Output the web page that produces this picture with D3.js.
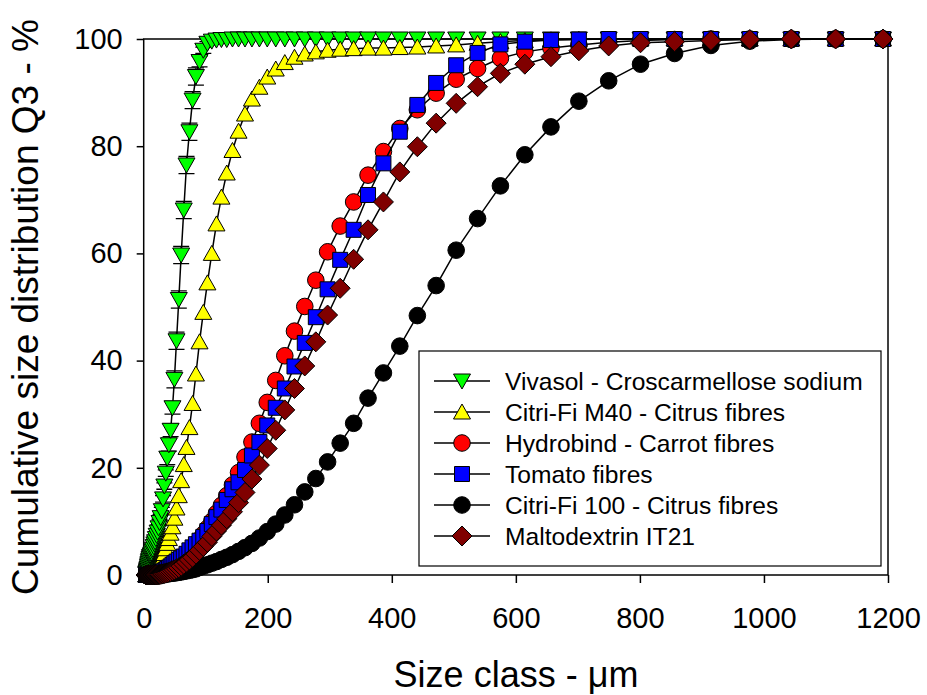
<!DOCTYPE html>
<html>
<head>
<meta charset="utf-8">
<script src="https://cdn.jsdelivr.net/npm/d3@7"></script>
<style>
    body { margin: 0; background: #ffffff; }
    text { font-family: Arial, "Liberation Sans", sans-serif; fill: #000000; }
</style>
</head>
<body>
<div id="canvas"></div>
<script>
"use strict"

/* size classes (um) */
let sizeClass = [4.0, 4.3, 4.6, 4.9, 5.2, 5.6, 5.9, 6.3, 6.8, 7.2,
    7.7, 8.3, 8.8, 9.4, 10.1, 10.8, 11.5, 12.3, 13.2, 14.1,
    15.0, 16.1, 17.2, 18.3, 19.6, 20.9, 22.4, 23.9, 25.5, 27.3,
    29.2, 31.2, 33.3, 35.6, 38.0, 40.6, 43.4, 46.4, 49.5, 52.9,
    56.6, 60.4, 64.6, 69.0, 73.7, 78.8, 84.2, 90.0, 96.1, 102.7,
    109.8, 117.3, 125.3, 133.9, 143.1, 152.9, 163.3, 174.5, 186.5, 199.2,
    212.9, 227.5, 243.1, 259.7, 277.5, 296.5, 316.8, 338.5, 361.7, 386.5,
    412.9, 441.2, 471.5, 503.8, 538.3, 575.1, 614.5, 656.6, 701.6, 749.7,
    801.0, 855.9, 914.5, 977.2, 1044.1, 1115.6, 1192.0];

/* cumulative Q3 (%) for every series */
let vivasol = [0.2, 0.3, 0.4, 0.5, 0.7, 0.9, 1.1, 1.3, 1.6, 1.9,
    2.2, 2.5, 2.8, 3.1, 3.4, 3.5, 3.7, 3.9, 4.1, 4.5,
    4.8, 5.3, 5.8, 6.2, 6.8, 7.4, 8.0, 8.8, 9.8, 10.7,
    12.0, 14.2, 16.6, 19.0, 21.8, 24.3, 27.0, 31.2, 36.5, 43.7,
    51.4, 59.7, 68.1, 76.5, 82.7, 88.6, 93.0, 95.8, 97.9, 99.2,
    99.6, 99.8, 99.9, 99.9, 100, 100, 100, 100, 100, 100,
    100, 100, 100, 100, 100, 100, 100, 100, 100, 100,
    100, 100, 100, 100, 100, 100, 100, 100, 100, 100,
    100, 100, 100, 100, 100, 100, 100];

let vivasolError = [0.3, 0.3, 0.3, 0.3, 0.3, 0.3, 0.3, 0.3, 0.3, 0.3,
    0.3, 0.3, 0.3, 0.3, 0.3, 0.3, 0.3, 0.3, 0.3, 0.3,
    0.3, 0.3, 0.3, 0.3, 0.3, 0.3, 0.6, 0.6, 0.6, 0.6,
    0.6, 0.6, 0.6, 0.6, 1.2, 1.2, 1.2, 1.2, 1.6, 1.6,
    1.6, 1.6, 1.6, 1.6, 1.6, 1.6, 1.6, 1.0, 0.6, 0.3,
    0.3, 0.3, 0.3, 0.3, 0, 0, 0, 0, 0, 0,
    0, 0, 0, 0, 0, 0, 0, 0, 0, 0,
    0, 0, 0, 0, 0, 0, 0, 0, 0, 0,
    0, 0, 0, 0, 0, 0, 0];

let citriM40 = [0, 0, 0, 0, 0, 0.01, 0.01, 0.02, 0.02, 0.03,
    0.04, 0.05, 0.06, 0.08, 0.1, 0.12, 0.15, 0.2, 0.25, 0.3,
    0.35, 0.4, 0.5, 0.6, 0.75, 0.9, 1.1, 1.3, 1.6, 2.0,
    2.5, 3.2, 4.0, 4.9, 5.9, 6.8, 7.8, 9.0, 10.6, 12.5,
    14.8, 17.6, 20.6, 23.8, 27.5, 32.0, 37.5, 43.5, 49.0, 54.5,
    60.0, 65.5, 70.5, 75.0, 79.2, 82.8, 86.0, 88.8, 91.0, 92.9,
    94.4, 95.6, 96.6, 97.2, 97.6, 97.9, 98.1, 98.2, 98.3, 98.3,
    98.4, 98.5, 98.7, 98.9, 99.2, 99.5, 99.7, 99.85, 99.95, 100,
    100, 100, 100, 100, 100, 100, 100];

let hydrobind = [0, 0, 0, 0, 0, 0, 0, 0, 0, 0,
    0, 0, 0, 0, 0, 0, 0, 0, 0.01, 0.02,
    0.03, 0.05, 0.07, 0.09, 0.12, 0.15, 0.2, 0.25, 0.32, 0.4,
    0.5, 0.6, 0.7, 0.85, 1.0, 1.2, 1.4, 1.6, 1.9, 2.2,
    2.5, 2.9, 3.3, 3.8, 4.4, 5.0, 5.8, 6.6, 7.6, 8.7,
    10.0, 11.5, 13.0, 14.8, 16.8, 19.1, 22.0, 24.8, 28.3, 32.2,
    36.3, 40.9, 45.5, 50.1, 55.0, 60.3, 65.1, 69.6, 74.6, 79.0,
    83.3, 86.8, 89.9, 92.5, 94.5, 96.4, 97.6, 98.3, 98.9, 99.4,
    99.7, 99.9, 100, 100, 100, 100, 100];

let tomato = [0, 0, 0, 0, 0, 0, 0, 0, 0, 0,
    0, 0, 0, 0, 0, 0, 0, 0, 0.01, 0.02,
    0.03, 0.05, 0.07, 0.1, 0.13, 0.17, 0.22, 0.28, 0.36, 0.45,
    0.55, 0.65, 0.8, 0.95, 1.15, 1.35, 1.6, 1.9, 2.2, 2.5,
    2.8, 3.1, 3.45, 3.95, 4.6, 5.15, 5.75, 6.4, 7.1, 8.2,
    9.5, 10.8, 12.2, 14.0, 16.0, 17.3, 19.6, 22.3, 24.8, 27.9,
    31.2, 34.8, 38.9, 43.3, 48.1, 53.3, 58.8, 64.4, 70.9, 76.8,
    82.7, 87.7, 91.8, 95.1, 97.4, 99.0, 99.5, 99.8, 99.9, 100,
    100, 100, 100, 100, 100, 100, 100];

let citri100 = [0, 0, 0, 0, 0, 0, 0, 0, 0, 0,
    0, 0, 0, 0, 0, 0, 0, 0, 0.01, 0.01,
    0.02, 0.02, 0.03, 0.03, 0.04, 0.05, 0.06, 0.07, 0.08, 0.1,
    0.12, 0.14, 0.16, 0.19, 0.22, 0.25, 0.29, 0.33, 0.38, 0.44,
    0.5, 0.58, 0.67, 0.77, 0.88, 1.0, 1.15, 1.4, 1.65, 1.9,
    2.2, 2.5, 2.9, 3.3, 3.8, 4.4, 5.1, 5.9, 6.9, 8.1,
    9.5, 11.2, 13.1, 15.5, 18.0, 21.1, 24.6, 28.3, 33.0, 37.7,
    42.7, 48.4, 54.0, 60.6, 66.5, 72.6, 78.4, 83.6, 88.4, 92.2,
    95.3, 97.3, 98.8, 99.6, 99.9, 100, 100];

let maltodextrin = [0, 0, 0, 0, 0, 0, 0, 0, 0, 0,
    0, 0, 0, 0, 0, 0, 0, 0, 0, 0,
    0, 0, 0, 0, 0.01, 0.02, 0.04, 0.06, 0.09, 0.12,
    0.16, 0.21, 0.27, 0.34, 0.42, 0.52, 0.65, 0.8, 0.95, 1.15,
    1.35, 1.65, 2.0, 2.4, 2.8, 3.3, 3.9, 4.6, 5.3, 6.1,
    7.2, 8.2, 9.3, 10.5, 11.8, 13.5, 15.4, 17.9, 20.5, 23.6,
    27.0, 30.8, 34.8, 39.0, 43.5, 48.5, 53.5, 58.9, 64.4, 69.6,
    75.2, 79.9, 84.3, 88.0, 91.1, 93.6, 95.3, 96.7, 97.8, 98.7,
    99.3, 99.5, 99.7, 99.9, 100, 100, 100];

let seriesNames = ["Vivasol - Croscarmellose sodium", "Citri-Fi M40 - Citrus fibres",
    "Hydrobind - Carrot fibres", "Tomato fibres", "Citri-Fi 100 - Citrus fibres",
    "Maltodextrin IT21"];

let xTicks = [0, 200, 400, 600, 800, 1000, 1200];
let yTicks = [0, 20, 40, 60, 80, 100];

/* styles per series, same order as the names */
let series = [
    { name: seriesNames[0], values: vivasol, fill: "#00ff00", shape: "triDown" },
    { name: seriesNames[1], values: citriM40, fill: "#ffff00", shape: "triUp" },
    { name: seriesNames[2], values: hydrobind, fill: "#ff0000", shape: "circle" },
    { name: seriesNames[3], values: tomato, fill: "#0000ff", shape: "square" },
    { name: seriesNames[4], values: citri100, fill: "#000000", shape: "circle" },
    { name: seriesNames[5], values: maltodextrin, fill: "#800000", shape: "diamond" }
];

let drawing = d3.select("#canvas")
    .append("svg")
    .attr("width", 927)
    .attr("height", 695);

let xScale = d3.scaleLinear().domain([0, 1200]).range([143.7, 888]);
let yScale = d3.scaleLinear().domain([0, 100]).range([575, 39]);

/* marker shapes centred on 0,0 */
function markerPath(shape) {
    if (shape === "triUp") return "M0,-8L8.5,7L-8.5,7Z";
    if (shape === "triDown") return "M0,8L8.5,-7L-8.5,-7Z";
    if (shape === "square") return "M-7.5,-7.5L7.5,-7.5L7.5,7.5L-7.5,7.5Z";
    if (shape === "diamond") return "M0,-10L10,0L0,10L-10,0Z";
    return d3.symbol().type(d3.symbolCircle).size(Math.PI * 8.3 * 8.3)();
}

/* axes */
let xAxis = drawing.append("g")
    .attr("transform", "translate(0,575)")
    .call(d3.axisBottom(xScale).tickValues(xTicks).tickSize(8).tickPadding(24).tickFormat(d3.format("d")));

let yAxis = drawing.append("g")
    .attr("transform", "translate(143.7,0)")
    .call(d3.axisLeft(yScale).tickValues(yTicks).tickSize(7).tickPadding(14).tickFormat(d3.format("d")));

drawing.selectAll(".domain").remove();
drawing.selectAll(".tick line").attr("stroke", "#000").attr("stroke-width", 1.5);
drawing.selectAll(".tick text")
    .attr("font-size", 29)
    .attr("font-family", "Arial, 'Liberation Sans', sans-serif");

/* frame round the plot */
let frame = drawing.append("rect")
    .attr("x", xScale(0))
    .attr("y", yScale(100))
    .attr("width", xScale(1200) - xScale(0))
    .attr("height", yScale(0) - yScale(100))
    .attr("fill", "none")
    .attr("stroke", "#000")
    .attr("stroke-width", 1.5);

/* curves */
let lineMaker = d3.line()
    .x(d => xScale(d[0]))
    .y(d => yScale(d[1]));

series.forEach(function (s, k) {
    let pts = sizeClass.map((c, i) => [c, s.values[i]]);
    let g = drawing.append("g");

    g.append("path")
        .attr("d", lineMaker(pts))
        .attr("fill", "none")
        .attr("stroke", "#000")
        .attr("stroke-width", 1.5);

    /* error bars only show on the Vivasol curve */
    if (k === 0) {
        let bars = pts.map((p, i) => [p[0], p[1], vivasolError[i]]).filter(p => p[2] > 0);
        g.selectAll(".err")
            .data(bars)
            .enter().append("path")
            .attr("d", function (p) {
                let x = xScale(p[0]);
                let y1 = yScale(p[1] + p[2]);
                let y2 = yScale(p[1] - p[2]);
                return "M" + x + "," + y1 + "V" + y2 +
                    "M" + (x - 8) + "," + y1 + "H" + (x + 8) +
                    "M" + (x - 8) + "," + y2 + "H" + (x + 8);
            })
            .attr("fill", "none")
            .attr("stroke", "#000")
            .attr("stroke-width", 1.3);
    }

    g.selectAll(".mark")
        .data(pts)
        .enter().append("path")
        .attr("d", markerPath(s.shape))
        .attr("transform", p => "translate(" + xScale(p[0]) + "," + yScale(p[1]) + ")")
        .attr("fill", s.fill)
        .attr("stroke", "#000")
        .attr("stroke-width", 1);
});

/* legend */
let legendBox = drawing.append("rect")
    .attr("x", 419)
    .attr("y", 351)
    .attr("width", 462)
    .attr("height", 215)
    .attr("fill", "#fff")
    .attr("stroke", "#000")
    .attr("stroke-width", 1.2);

series.forEach(function (s, k) {
    let ly = 381 + k * 31;
    drawing.append("line")
        .attr("x1", 434)
        .attr("y1", ly)
        .attr("x2", 490)
        .attr("y2", ly)
        .attr("stroke", "#000")
        .attr("stroke-width", 1.5);
    drawing.append("path")
        .attr("d", markerPath(s.shape))
        .attr("transform", "translate(462," + ly + ")")
        .attr("fill", s.fill)
        .attr("stroke", "#000")
        .attr("stroke-width", 1);
    drawing.append("text")
        .attr("x", 505)
        .attr("y", ly)
        .attr("dy", "0.36em")
        .attr("font-size", 24.6)
        .text(s.name);
});

/* axis titles */
let yTitle = drawing.append("text")
    .attr("transform", "translate(38,307) rotate(-90)")
    .attr("text-anchor", "middle")
    .attr("font-size", 37)
    .text("Cumulative size distribution Q3 - %");

let xTitle = drawing.append("text")
    .attr("x", 516)
    .attr("y", 687)
    .attr("text-anchor", "middle")
    .attr("font-size", 36)
    .text("Size class - μm");
</script>
</body>
</html>
